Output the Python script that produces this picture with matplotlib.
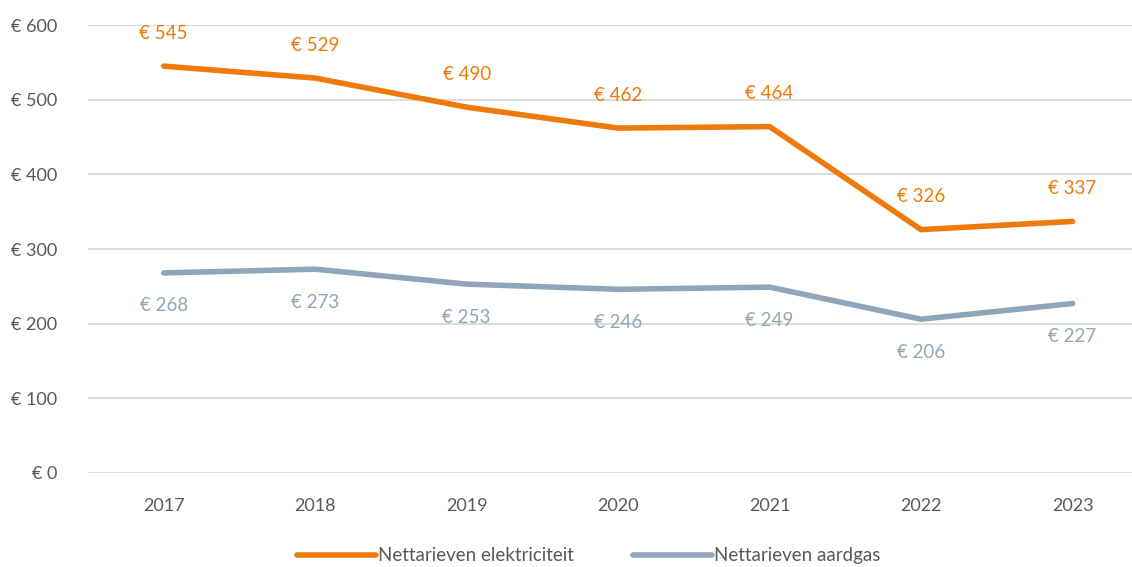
import matplotlib.pyplot as plt

years = ['2017', '2018', '2019', '2020', '2021', '2022', '2023']
elektriciteit = [545, 529, 490, 462, 464, 326, 337]
aardgas = [268, 273, 253, 246, 249, 206, 227]

orange = '#EE7A0A'
grey = '#8FA6BA'
txt = '#595959'

plt.rcParams['font.family'] = ['Lato', 'DejaVu Sans']

fig = plt.figure(figsize=(11.32, 5.67), dpi=100)
ax = fig.add_axes([0.0777, 0.1658, 0.93, 0.790])

x = list(range(len(years)))
ax.plot(x, elektriciteit, color=orange, lw=4, solid_capstyle='round', label='Nettarieven elektriciteit')
ax.plot(x, aardgas, color=grey, lw=4, solid_capstyle='round', label='Nettarieven aardgas')

for i, v in enumerate(elektriciteit):
    ax.annotate('€ ' + str(v), (i, v), xytext=(0, 33), textcoords='offset pixels',
                ha='center', va='center', color=orange, fontsize=13.5)
for i, v in enumerate(aardgas):
    ax.annotate('€ ' + str(v), (i, v), xytext=(0, -33), textcoords='offset pixels',
                ha='center', va='center', color=grey, fontsize=13.5)

ax.set_ylim(0, 600)
ax.set_xlim(-0.5, 6.45)
ax.set_yticks(range(0, 601, 100))
ax.set_yticklabels(['€ ' + str(t) for t in range(0, 601, 100)])
ax.set_xticks(x)
ax.set_xticklabels(years)
ax.grid(axis='y', color='#D9D9D9', lw=1.3)
ax.set_axisbelow(True)
for s in ax.spines.values():
    s.set_visible(False)
ax.tick_params(length=0, labelsize=13, colors=txt, pad=18)
ax.tick_params(axis='y', pad=22)

fig.legend(loc='lower center', bbox_to_anchor=(0.52, -0.025), ncol=2, frameon=False,
           fontsize=13.5, labelcolor=txt, handlelength=4.2, handletextpad=0.1, columnspacing=3.2)

plt.savefig('out.png', dpi=100)
